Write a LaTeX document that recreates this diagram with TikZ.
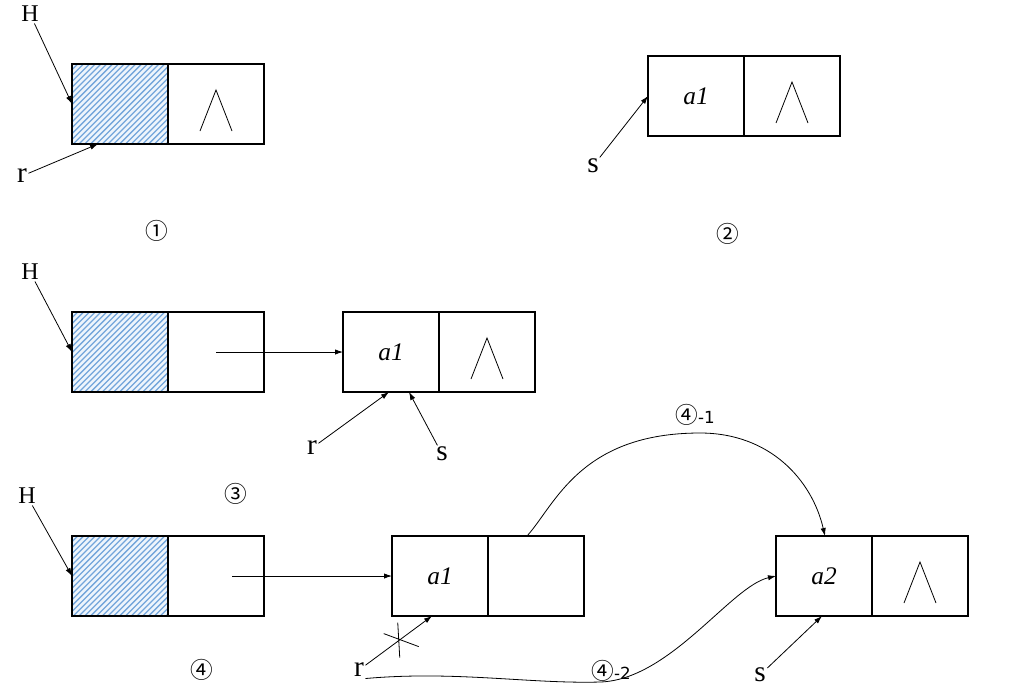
\documentclass[tikz,border=0pt]{standalone}
\usepackage{fontspec}
\setmainfont{Liberation Serif}
\newfontfamily\circfont{DejaVu Sans}
\newfontfamily\cjk{Noto Sans CJK SC}
\usetikzlibrary{positioning,calc,arrows.meta}

\definecolor{hatchblue}{RGB}{115,165,218}
\definecolor{hatchbg}{RGB}{238,245,252}

\newcommand{\stepno}[2]{{\circfont\fontsize{12.5}{14}\selectfont{\cjk\fontsize{17}{17}\selectfont #1}#2}}
\newcommand{\nullmark}[1]{\draw[line width=0.6pt] ($(#1.center)+(-16,27)$) -- ($(#1.center)+(0,-14)$) -- ($(#1.center)+(16,27)$);}
\newcommand{\hatchcell}[1]{%
  \fill[hatchbg] (#1.south west) rectangle (#1.north east);
  \begin{scope}
    \clip (#1.south west) rectangle (#1.north east);
    \foreach \k in {0,...,31}
      \draw[hatchblue,line width=0.95pt] ($(#1.south west)+(\k*5.8-80,0)$) -- ++(80,-80);
  \end{scope}
  \draw[line width=1pt] (#1.south west) rectangle (#1.north east);}

\tikzset{
  cell/.style={draw, line width=1pt, minimum width=72pt, minimum height=60pt, inner sep=0pt, outer sep=0pt, font=\fontsize{19}{20}\selectfont\itshape},
  ptr/.style={-{Latex[length=6pt,width=4pt]}, line width=0.6pt},
  lbl/.style={inner sep=1pt, font=\fontsize{22}{24}\selectfont},
  hlbl/.style={inner sep=1pt, font=\fontsize{18}{20}\selectfont},
  note/.style={inner sep=1pt},
}

\begin{document}
\begin{tikzpicture}[x=0.75pt,y=-0.75pt]
\useasboundingbox (0,0) rectangle (1023,689);

% step 1
\node[cell] (c1a) at (120,104) {};
\node[cell,right=0pt of c1a] (c1b) {};
\hatchcell{c1a}
\nullmark{c1b}
\node[hlbl] (h1) at (30,14) {H};
\node[lbl] (r1) at (22,176) {r};
\draw[ptr] (h1) -- (c1a.west);
\draw[ptr] (r1) -- ($(c1a.south west)+(26,0)$);
\node[note] (n1) at (157,231) {\stepno{①}{}};

% step 2
\node[cell] (c2a) at (696,96) {a1};
\node[cell,right=0pt of c2a] (c2b) {};
\nullmark{c2b}
\node[lbl] (s2) at (593,166) {s};
\draw[ptr] (s2) -- (c2a.west);
\node[note] (n2) at (728,234) {\stepno{②}{}};

% step 3
\node[cell] (c3a) at (120,352) {};
\node[cell,right=0pt of c3a] (c3b) {};
\hatchcell{c3a}
\node[cell] (c3c) at (391,352) {a1};
\node[cell,right=0pt of c3c] (c3d) {};
\nullmark{c3d}
\node[hlbl] (h3) at (30,272) {H};
\node[lbl] (r3) at (312,448) {r};
\node[lbl] (s3) at (442,454) {s};
\draw[ptr] (h3) -- (c3a.west);
\draw[ptr] (c3b.center) -- (c3c.west);
\draw[ptr] (r3) -- ($(c3c.south west)+(46,0)$);
\draw[ptr] (s3) -- ($(c3c.south west)+(66,0)$);
\node[note] (n3) at (236,494) {\stepno{③}{}};

% step 4
\node[cell] (c4a) at (120,576) {};
\node[cell,right=0pt of c4a] (c4b) {};
\hatchcell{c4a}
\node[cell] (c4c) at (440,576) {a1};
\node[cell,right=0pt of c4c] (c4d) {};
\node[cell] (c4e) at (824,576) {a2};
\node[cell,right=0pt of c4e] (c4f) {};
\nullmark{c4f}
\node[hlbl] (h4) at (27,496) {H};
\node[lbl] (r4) at (359,670) {r};
\node[lbl] (s4) at (760,675) {s};
\draw[ptr] (h4) -- (c4a.west);
\draw[ptr] ($(c4b.center)+(16,0)$) -- (c4c.west);
\draw[ptr] (r4) -- coordinate[pos=0.5] (cut) ($(c4c.south west)+(40,0)$);
\draw[line width=0.6pt] (cut) +(-1,-18) -- +(1,17) (cut) +(-15,-7) -- +(20,6);
\draw[ptr] (s4) -- ($(c4e.south west)+(46,0)$);
\coordinate (top) at (700,433);
\draw[ptr] ($(c4d.north west)+(39,0)$) .. controls +(28,-31) and +(-120,0) .. (top) .. controls +(70,0) and +(-13,-56) .. ($(c4e.north west)+(49,0)$);
\coordinate (low) at (600,682);
\draw[ptr] (r4.south east) .. controls +(90,-8) and +(-70,2) .. (low) .. controls +(70,-2) and +(-45,10) .. (c4e.west);
\node[note] (n41) at (695,415) {\stepno{④}{-1}};
\node[note] (n42) at (611,671) {\stepno{④}{-2}};
\node[note] (n4) at (202,670) {\stepno{④}{}};
\end{tikzpicture}
\end{document}
